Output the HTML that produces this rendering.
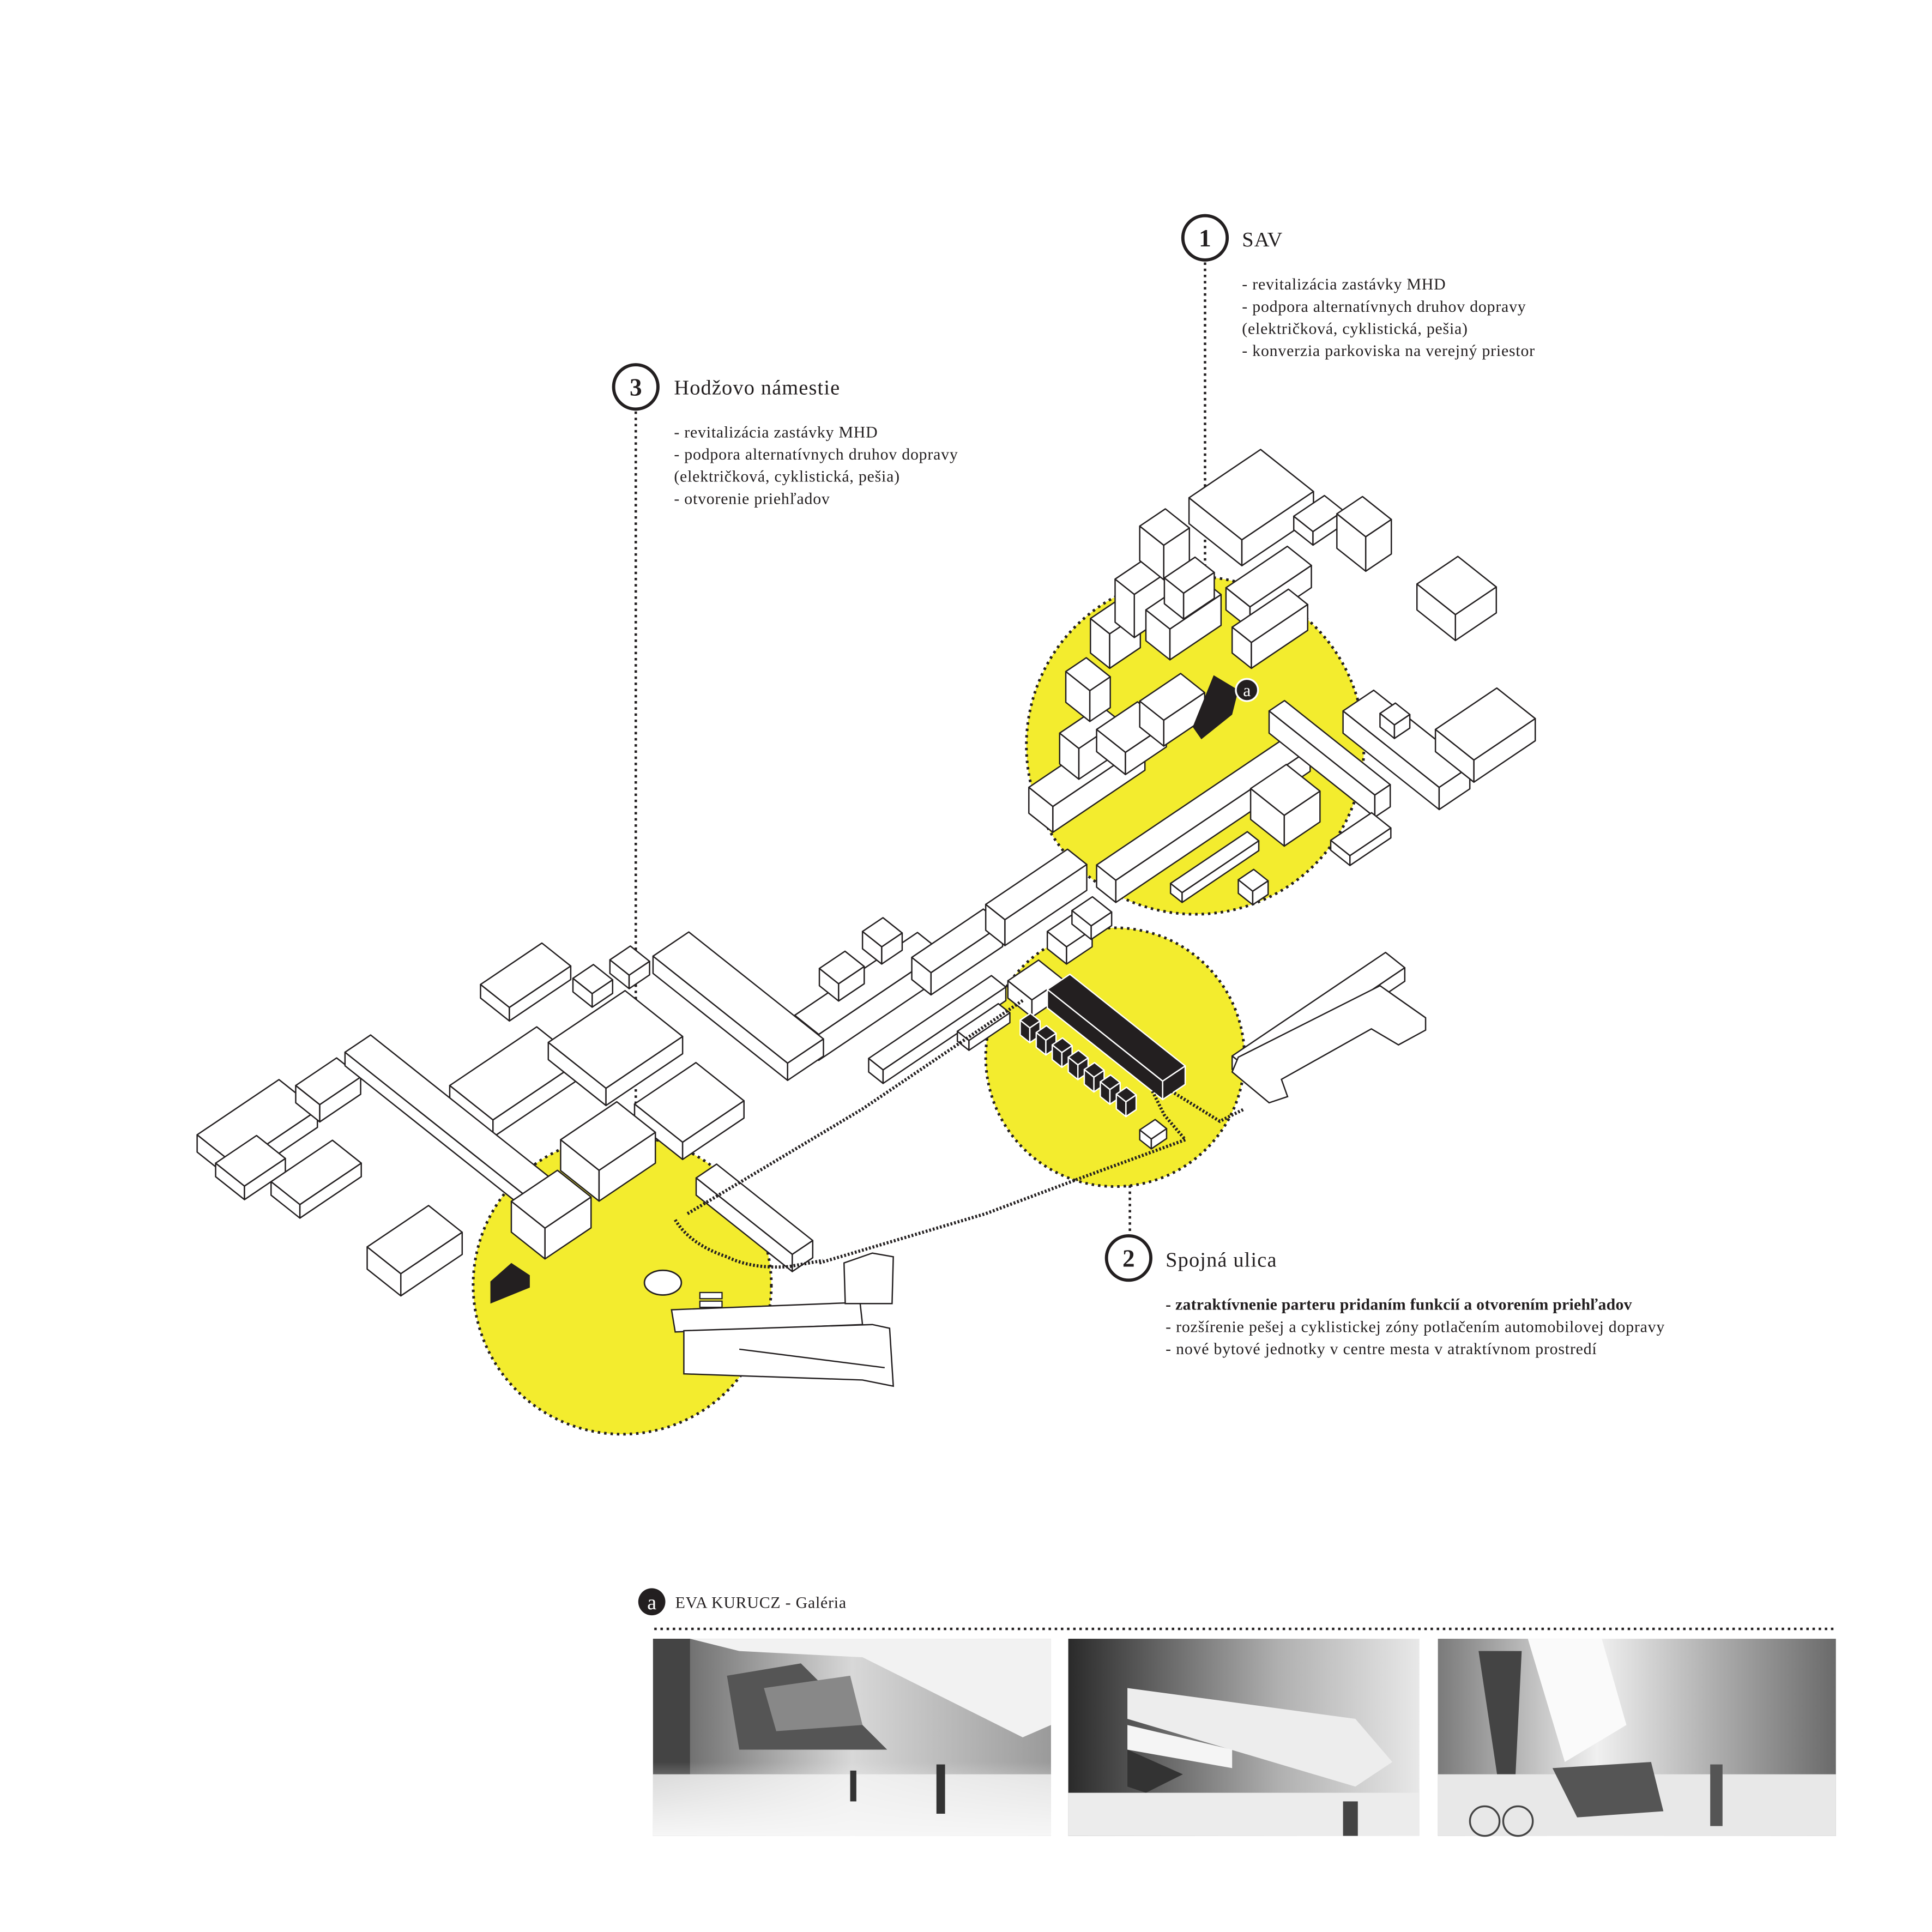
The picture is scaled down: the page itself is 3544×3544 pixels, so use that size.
<!DOCTYPE html>
<html><head><meta charset="utf-8">
<style>
html,body{margin:0;padding:0;background:#fff;}
svg{display:block;}
text{font-family:"Liberation Serif",serif;fill:#231f20;}
.t{font-size:13.2px;letter-spacing:0.35px;}
</style></head>
<body>
<svg id="s" width="3544" height="3544" viewBox="0 0 1568 1568" xmlns="http://www.w3.org/2000/svg">
<defs>
<linearGradient id="p1" x1="0" y1="0" x2="1" y2="0"><stop offset="0" stop-color="#5a5a5a"/><stop offset="0.5" stop-color="#d8d8d8"/><stop offset="1" stop-color="#9a9a9a"/></linearGradient>
<linearGradient id="p2" x1="0" y1="0" x2="1" y2="0"><stop offset="0" stop-color="#2a2a2a"/><stop offset="0.6" stop-color="#b0b0b0"/><stop offset="1" stop-color="#e8e8e8"/></linearGradient>
<linearGradient id="p3" x1="0" y1="0" x2="1" y2="0"><stop offset="0" stop-color="#7a7a7a"/><stop offset="0.4" stop-color="#f0f0f0"/><stop offset="1" stop-color="#6a6a6a"/></linearGradient>
<linearGradient id="gr" x1="0" y1="0" x2="0" y2="1"><stop offset="0" stop-color="#fff" stop-opacity="0"/><stop offset="1" stop-color="#fff"/></linearGradient>
</defs>

<g fill="#f3ec2e" stroke="#231f20" stroke-width="2.2" stroke-dasharray="2 3.2">
<circle cx="970" cy="605" r="137"/>
<circle cx="905" cy="858" r="105"/>
<circle cx="505" cy="1043" r="121"/>
</g>

<g stroke="#231f20" stroke-width="2" stroke-dasharray="2 3" fill="none">
<line x1="978" y1="213" x2="978" y2="470"/>
<line x1="516" y1="334" x2="516" y2="925"/>
<line x1="917" y1="962" x2="917" y2="1002"/>
<line x1="531" y1="1322" x2="1490" y2="1322"/>
</g>

<g id="b" stroke="#231f20" stroke-width="1.1" stroke-linejoin="round"></g>

<g stroke="#231f20" stroke-width="2.6" stroke-dasharray="1.5 1.5" fill="none">
<polyline points="558,985 700,900 830,812"/>
<polyline points="665,1025 800,985 880,955 962,925 945,905 935,885"/>
<polyline points="948,884 990,910 1010,900"/>
<path d="M548,990 Q560,1010 590,1020 Q610,1030 640,1028 L668,1023"/>
</g>

<ellipse cx="538" cy="1041" rx="15" ry="10" fill="#fff" stroke="#231f20" stroke-width="1.2"/>
<rect x="568" y="1049" width="18" height="5" fill="#fff" stroke="#231f20" stroke-width="1"/>
<rect x="568" y="1056" width="18" height="5" fill="#fff" stroke="#231f20" stroke-width="1"/>
<g fill="#fff" stroke="#231f20" stroke-width="1.1">
<polygon points="545,1063 698,1057 700,1075 548,1081"/>
<polygon points="555,1080 708,1075 722,1078 725,1125 700,1120 555,1115"/>
<line x1="600" y1="1095" x2="718" y2="1110"/>
<polygon points="685,1025 708,1017 725,1020 724,1058 686,1058"/>
<polygon points="1000,870 1005,858 1120,800 1157,826 1157,836 1135,848 1113,835 1040,876 1045,890 1030,895"/>
</g>
<polygon points="398,1040 415,1025 430,1035 430,1045 398,1058" fill="#231f20"/>
<polygon points="968,590 985,548 1005,560 1000,580 975,600" fill="#231f20"/>

<circle cx="978" cy="193" r="18" fill="#fff" stroke="#231f20" stroke-width="2.6"/>
<text x="978" y="200" font-size="20" font-weight="bold" text-anchor="middle" font-family="Liberation Sans, sans-serif">1</text>
<circle cx="516" cy="314" r="18" fill="#fff" stroke="#231f20" stroke-width="2.6"/>
<text x="516" y="321" font-size="20" font-weight="bold" text-anchor="middle" font-family="Liberation Sans, sans-serif">3</text>
<circle cx="916" cy="1021" r="18" fill="#fff" stroke="#231f20" stroke-width="2.6"/>
<text x="916" y="1028" font-size="20" font-weight="bold" text-anchor="middle" font-family="Liberation Sans, sans-serif">2</text>
<circle cx="1012" cy="560" r="9" fill="#231f20" stroke="#fff" stroke-width="1.5"/>
<text x="1012" y="565" font-size="14" text-anchor="middle" style="fill:#fff" font-family="Liberation Sans, sans-serif">a</text>
<circle cx="529" cy="1300" r="11" fill="#231f20"/>
<text x="529" y="1306" font-size="17" text-anchor="middle" style="fill:#fff" font-family="Liberation Sans, sans-serif">a</text>

<text x="1008" y="200" font-size="17" letter-spacing="0.5">SAV</text>
<g class="t">
<text x="1008" y="235">- revitalizácia zastávky MHD</text>
<text x="1008" y="253">- podpora alternatívnych druhov dopravy</text>
<text x="1008" y="271">(električková, cyklistická, pešia)</text>
<text x="1008" y="289">- konverzia parkoviska na verejný priestor</text>
</g>
<text x="547" y="320" font-size="17" letter-spacing="0.5">Hodžovo námestie</text>
<g class="t">
<text x="547" y="355">- revitalizácia zastávky MHD</text>
<text x="547" y="373">- podpora alternatívnych druhov dopravy</text>
<text x="547" y="391">(električková, cyklistická, pešia)</text>
<text x="547" y="409">- otvorenie priehľadov</text>
</g>
<text x="946" y="1028" font-size="17" letter-spacing="0.5">Spojná ulica</text>
<g class="t">
<text x="946" y="1063" font-weight="bold" letter-spacing="0.1">- zatraktívnenie parteru pridaním funkcií a otvorením priehľadov</text>
<text x="946" y="1081">- rozšírenie pešej a cyklistickej zóny potlačením automobilovej dopravy</text>
<text x="946" y="1099">- nové bytové jednotky v centre mesta v atraktívnom prostredí</text>
</g>
<text x="548" y="1305" class="t">EVA KURUCZ - Galéria</text>

<g>
<rect x="530" y="1330" width="323" height="160" fill="url(#p1)"/>
<polygon points="560,1330 853,1330 853,1400 830,1410 700,1345 600,1340" fill="#f2f2f2"/>
<polygon points="590,1360 650,1350 720,1420 600,1420" fill="#555"/>
<polygon points="620,1370 690,1360 700,1400 630,1405" fill="#888"/>
<rect x="530" y="1330" width="30" height="110" fill="#444"/>
<rect x="530" y="1430" width="323" height="60" fill="url(#gr)"/>
<rect x="530" y="1440" width="323" height="50" fill="#f4f4f4" opacity="0.8"/>
<rect x="760" y="1432" width="7" height="40" fill="#333"/>
<rect x="690" y="1437" width="5" height="25" fill="#333"/>

<rect x="867" y="1330" width="285" height="160" fill="url(#p2)"/>
<polygon points="915,1370 1100,1395 1130,1430 1100,1450 915,1395" fill="#ededed"/>
<polygon points="915,1400 1000,1420 1000,1435 915,1420" fill="#f5f5f5"/>
<polygon points="915,1420 960,1440 930,1455 915,1450" fill="#333"/>
<rect x="867" y="1455" width="285" height="35" fill="#ececec"/>
<rect x="1090" y="1462" width="12" height="28" fill="#444"/>

<rect x="1167" y="1330" width="323" height="160" fill="url(#p3)"/>
<polygon points="1240,1330 1300,1330 1320,1400 1270,1430" fill="#fafafa"/>
<polygon points="1200,1340 1235,1340 1230,1440 1215,1440" fill="#444"/>
<rect x="1167" y="1440" width="323" height="50" fill="#e8e8e8"/>
<polygon points="1260,1435 1340,1430 1350,1470 1280,1475" fill="#555"/>
<circle cx="1205" cy="1478" r="12" fill="none" stroke="#444" stroke-width="1.5"/>
<circle cx="1232" cy="1478" r="12" fill="none" stroke="#444" stroke-width="1.5"/>
<rect x="1388" y="1432" width="10" height="50" fill="#555"/>
</g>
</svg>
<script>
(function(){
var g=document.getElementById('b');
var u=[0.83,-0.56],v=[0.78,0.62];
function pt(a){return a[0].toFixed(1)+','+a[1].toFixed(1);}
function poly(ps,f){var e=document.createElementNS('http://www.w3.org/2000/svg','polygon');e.setAttribute('points',ps.map(pt).join(' '));e.setAttribute('fill',f);if(f!=='#fff')e.setAttribute('stroke','#fff');g.appendChild(e);}
function box(x,y,L,W,H,f){f=f||'#fff';
var P=[x,y],A=[x+L*u[0],y+L*u[1]],C=[x+L*u[0]+W*v[0],y+L*u[1]+W*v[1]],D=[x+W*v[0],y+W*v[1]];
function up(p){return [p[0],p[1]-H];}
poly([P,D,up(D),up(P)],f);
poly([D,C,up(C),up(D)],f);
poly([up(P),up(A),up(C),up(D)],f);}
var B=[
[965,425,70,55,30],[1050,430,30,20,15],[1085,445,25,30,40],[1150,495,40,40,30],
[1090,595,30,100,25],[1165,610,60,40,25],[1120,590,15,15,15],
[835,660,90,25,30],[860,620,40,20,35],[865,570,20,25,35],[885,530,30,20,40],
[905,505,30,20,50],[925,455,25,25,40],[930,520,50,25,35],[945,490,30,20,30],
[890,610,40,30,25],[925,590,40,25,30],[995,495,60,25,25],[1000,530,55,20,30],
[890,720,190,20,25],[1030,595,15,110,25],[1015,665,35,35,35],[1080,690,40,20,12],
[950,725,75,12,12],[1005,725,15,15,15],
[645,845,120,25,30],[740,795,70,20,25],[800,755,80,20,30],[700,770,20,20,20],[665,800,25,20,20],
[705,870,120,15,15],[777,845,40,12,12],[850,770,25,20,20],[818,810,30,25,20],[870,750,20,20,15],
[1000,868,150,20,15],[925,925,15,12,12],
[365,895,85,45,20],[445,860,75,60,20],[530,790,35,140,20],[515,910,60,50,20],[390,810,60,30,15],
[465,805,20,20,15],[495,790,20,20,15],
[160,935,80,40,20],[240,895,40,25,20],[280,865,25,200,15],[220,970,60,30,15],[175,955,40,30,15],
[298,1030,60,35,25],[415,1000,45,35,35],[455,950,55,40,35],[565,970,20,100,20]
];
B.forEach(function(b){box(b[0],b[1],b[2],b[3],Math.round(b[4]*0.7));});
box(850,818,22,120,15,'#231f20');
for(var i=0;i<7;i++){box(828+i*13,840+i*10,10,10,12,'#231f20');}
})();
</script>
</body></html>
